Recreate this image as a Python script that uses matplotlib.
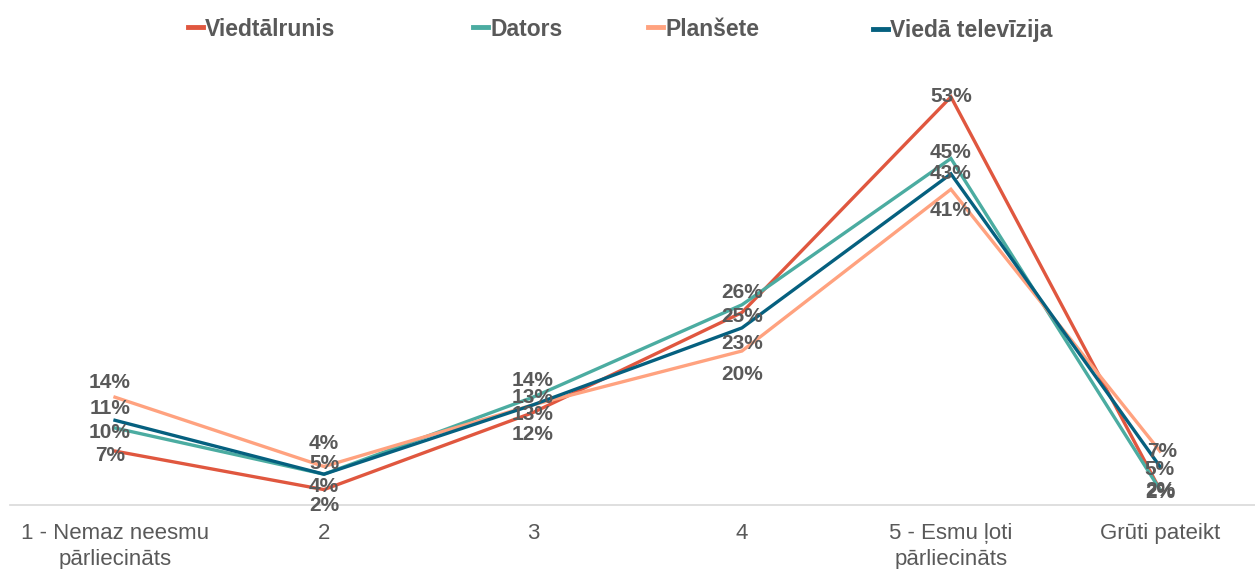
import matplotlib.pyplot as plt
import numpy as np

categories = ['1 - Nemaz neesmu\npārliecināts', '2', '3', '4',
              '5 - Esmu ļoti\npārliecināts', 'Grūti pateikt']

viedtalrunis = [7, 2, 12, 25, 53, 2]
dators = [10, 4, 14, 26, 45, 2]
plansete = [14, 5, 13, 20, 41, 7]
vieda_tv = [11, 4, 13, 23, 43, 5]

series_names = ['Viedtālrunis', 'Dators', 'Planšete', 'Viedā televīzija']
series_vals = [viedtalrunis, dators, plansete, vieda_tv]
colors = ['#E0573F', '#4BACA1', '#FFA27F', '#05607F']

# label offsets in pixels (dx, dy), per series per category
label_off = [
    [(-5, -4), (0, -16), (0, -22), (0, -4), (0, 0), (0, -1)],
    [(-5, -4), (0, -12), (0, 17), (0, 12), (0, 6), (0, -3)],
    [(-5, 15), (0, 3), (0, 7), (0, -23), (0, -21), (2, 0)],
    [(-5, 12), (0, 31), (0, -10), (0, -16), (0, 0), (0, -3)],
]
# legend entry anchors (left edge, vertical centre) in figure pixels
legend_x = [188, 473, 648, 873]
legend_y = [29, 29, 29, 31]

plt.rcParams['font.family'] = ['Liberation Sans', 'DejaVu Sans']

fig = plt.figure(figsize=(12.55, 5.69), dpi=100)
ax = fig.add_axes([10 / 1255, 64 / 569, 1245 / 1255, 462 / 569])

x = np.arange(len(categories))
lines = []
for name, vals, c in zip(series_names, series_vals, colors):
    ln, = ax.plot(x, vals, color=c, lw=2.4, label=name, solid_joinstyle='miter')
    lines.append(ln)

for vals, offs in zip(series_vals, label_off):
    for xi, v, (dx, dy) in zip(x, vals, offs):
        ax.annotate(f'{v}%', (xi, v), xytext=(dx, dy), textcoords='offset pixels',
                    ha='center', va='center', fontsize=15, fontweight='bold',
                    color='#595959', zorder=5)

ax.set_xlim(-0.5024, 5.455)
ax.set_ylim(0, 60)
ax.set_yticks([])
ax.set_xticks(x)
ax.set_xticklabels(categories, fontsize=16, color='#595959', linespacing=1.3)
ax.tick_params(axis='x', length=0, pad=13)
for s in ['top', 'right', 'left']:
    ax.spines[s].set_visible(False)
ax.spines['bottom'].set_color('#D9D9D9')
ax.spines['bottom'].set_linewidth(1.2)

for ln, lx, ly in zip(lines, legend_x, legend_y):
    leg = fig.legend(handles=[ln], loc='center left',
                     bbox_to_anchor=(lx / 1255, 1 - ly / 569),
                     frameon=False, handlelength=0.65, handletextpad=0.1,
                     borderaxespad=0, borderpad=0,
                     prop={'weight': 'bold', 'size': 16.5})
    leg.get_texts()[0].set_color('#595959')
    leg.legend_handles[0].set_linewidth(3.5)

fig.savefig('out.png', dpi=100)
